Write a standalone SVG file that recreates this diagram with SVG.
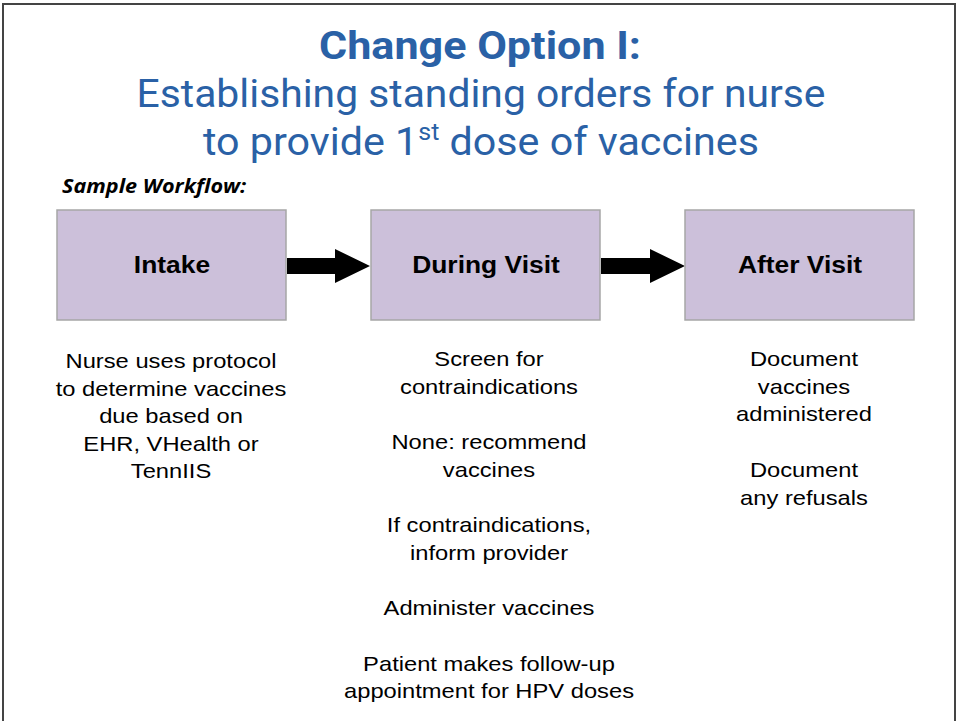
<svg xmlns="http://www.w3.org/2000/svg" width="959" height="721" viewBox="0 0 959 721">
<style>
.title{font-family:Roboto,"Open Sans",sans-serif;fill:#2A61A6;text-anchor:middle}
.box{fill:#CCC0DA;stroke:#A6A6A6;stroke-width:1.5}
.lbl{font-family:"Liberation Sans",Arial,sans-serif;font-weight:bold;font-size:24px;fill:#000;text-anchor:middle}
.body{font-family:"Liberation Sans",Arial,sans-serif;font-size:21px;fill:#000;text-anchor:middle}
.arrow{fill:#000}
</style>
<rect x="0" y="0" width="959" height="721" fill="#fff"/>
<path d="M3 725 V4 H955 V725" fill="none" stroke="#444" stroke-width="2"/>
<text class="title" x="480" y="59" font-size="38" font-weight="bold" textLength="322" lengthAdjust="spacingAndGlyphs">Change Option I:</text>
<text class="title" x="481" y="107" font-size="38" textLength="689" lengthAdjust="spacingAndGlyphs">Establishing standing orders for nurse</text>
<text class="title" x="481" y="155" font-size="38" textLength="556" lengthAdjust="spacingAndGlyphs">to provide 1<tspan font-size="23" dy="-15">st</tspan><tspan dy="15"> dose of vaccines</tspan></text>
<text transform="translate(62,193) scale(1.08,1)" x="0" y="0" font-family="'Open Sans','Noto Sans',sans-serif" font-size="20" font-weight="bold" font-style="italic" fill="#000">Sample Workflow:</text>
<g id="connectors">
<polygon class="arrow" points="287,258 335,258 335,249 370,266 335,283 335,274 287,274"/>
<polygon class="arrow" points="601,258 650,258 650,249 685,266 650,283 650,274 601,274"/>
</g>
<g id="intake">
<rect class="box" x="57" y="210" width="229" height="110"/>
<text class="lbl" transform="translate(172,273) scale(1.1,1)" x="0" y="0">Intake</text>
<text class="body" transform="translate(171,0) scale(1.13,1)"><tspan x="0" y="368">Nurse uses protocol</tspan><tspan x="0" y="396">to determine vaccines</tspan><tspan x="0" y="423">due based on</tspan><tspan x="0" y="451">EHR, VHealth or</tspan><tspan x="0" y="478">TennIIS</tspan></text>
</g>
<g id="during">
<rect class="box" x="371" y="210" width="229" height="110"/>
<text class="lbl" transform="translate(486,273) scale(1.1,1)" x="0" y="0">During Visit</text>
<text class="body" transform="translate(489,0) scale(1.13,1)"><tspan x="0" y="366">Screen for</tspan><tspan x="0" y="394">contraindications</tspan><tspan x="0" y="449">None: recommend</tspan><tspan x="0" y="477">vaccines</tspan><tspan x="0" y="532">If contraindications,</tspan><tspan x="0" y="560">inform provider</tspan><tspan x="0" y="615">Administer vaccines</tspan><tspan x="0" y="671">Patient makes follow-up</tspan><tspan x="0" y="698">appointment for HPV doses</tspan></text>
</g>
<g id="after">
<rect class="box" x="685" y="210" width="229" height="110"/>
<text class="lbl" transform="translate(800,273) scale(1.1,1)" x="0" y="0">After Visit</text>
<text class="body" transform="translate(804,0) scale(1.13,1)"><tspan x="0" y="366">Document</tspan><tspan x="0" y="394">vaccines</tspan><tspan x="0" y="421">administered</tspan><tspan x="0" y="477">Document</tspan><tspan x="0" y="505">any refusals</tspan></text>
</g>
</svg>
